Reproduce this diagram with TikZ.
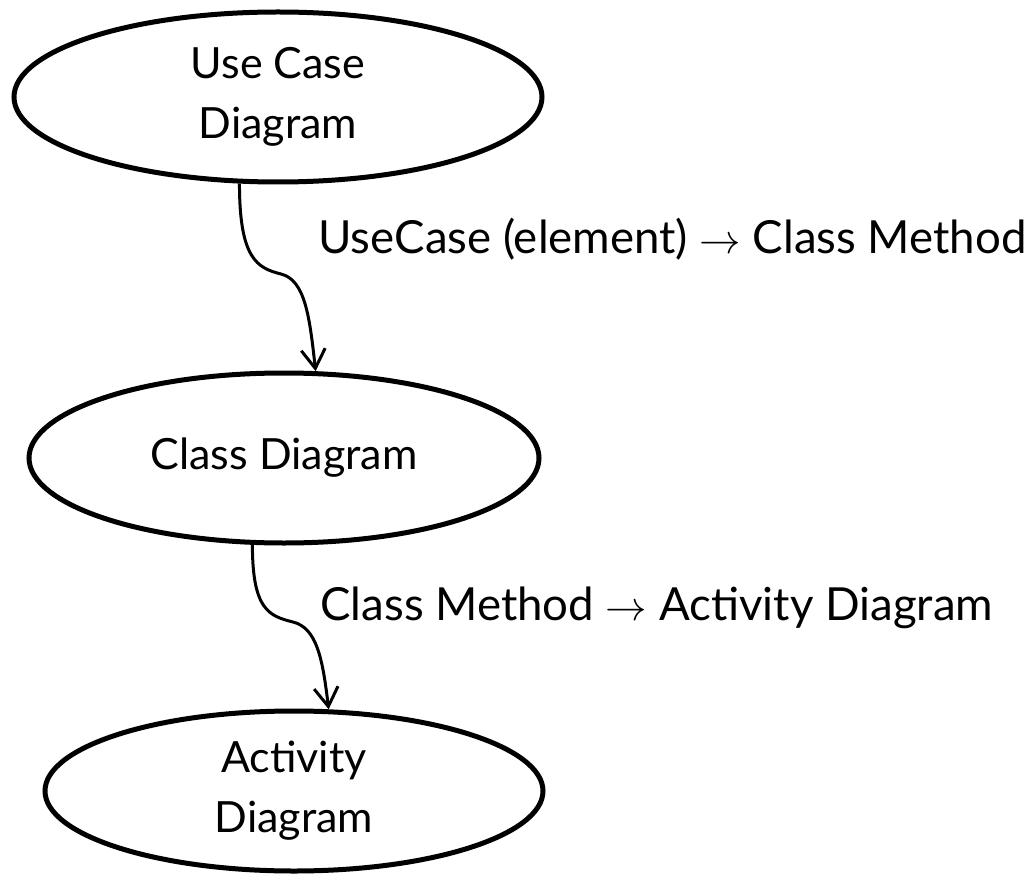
\documentclass[tikz,border=0pt]{standalone}
\usepackage{fontspec}
\setmainfont{Lato}
\usetikzlibrary{shapes.geometric,arrows.meta}
\definecolor{ink}{RGB}{0, 0, 0}

\begin{document}
\begin{tikzpicture}[x=0.5pt, y=-0.5pt,
    diagram/.style={draw=ink, ellipse, line width=2.5pt, inner sep=0pt, align=center,
                    font=\fontsize{21.5}{30}\selectfont},
    flow/.style={draw=ink, line width=1.5pt, -{Straight Barb[length=9.5pt, width=12pt, line width=1.5pt]}},
    note/.style={anchor=base west, inner sep=0pt, font=\fontsize{22.8}{26}\selectfont}]
    \useasboundingbox (0, 0) rectangle (1033, 882);
    \node[diagram, minimum width=264pt, minimum height=85pt] (uc) at (278,  97) {Use Case\\Diagram};
    \node[diagram, minimum width=255pt, minimum height=85pt] (cd) at (284, 458) {Class Diagram};
    \node[diagram, minimum width=249pt, minimum height=80pt] (ad) at (294, 791) {Activity\\Diagram};
    \coordinate (bend1) at (281, 274);
    \coordinate (bend2) at (293, 622);
    \draw[flow] (uc.246) .. controls +(0, 75) and +(-24, -6) .. (bend1)
                         .. controls +(24, 6) and +(-6, -55) .. (cd.70);
    \draw[flow] (cd.250) .. controls +(0, 65) and +(-24, -6) .. (bend2)
                         .. controls +(24, 6) and +(-6, -50) .. (ad.67);
    \node[note] (map1) at (318, 254) {UseCase (element) $\rightarrow$ Class Method};
    \node[note] (map2) at (320, 620) {Class Method $\rightarrow$ Activity Diagram};
\end{tikzpicture}
\end{document}
